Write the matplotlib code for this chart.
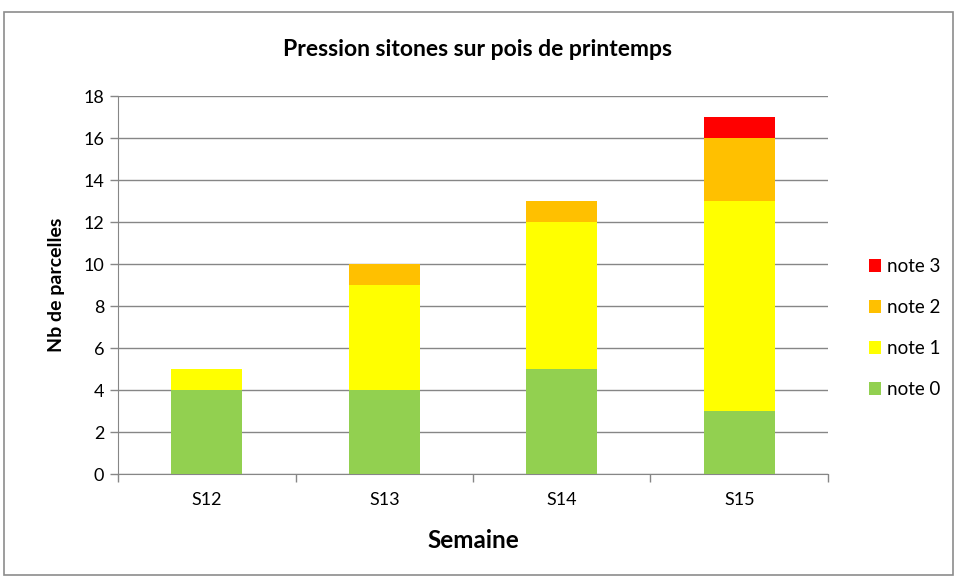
import numpy as np
import matplotlib.pyplot as plt
from matplotlib.patches import Rectangle

plt.rcParams['font.family'] = ['Lato', 'DejaVu Sans']

semaines = ["S12", "S13", "S14", "S15"]
note0 = [4, 4, 5, 3]
note1 = [1, 5, 7, 10]
note2 = [0, 1, 1, 3]
note3 = [0, 0, 0, 1]
series = [("note 0", note0, "#92D050"), ("note 1", note1, "#FFFF00"),
          ("note 2", note2, "#FFC000"), ("note 3", note3, "#FF0000")]

fig = plt.figure(figsize=(9.55, 5.77), dpi=100)
fig.patches.append(Rectangle((0.004, 0.004), 0.994, 0.976, transform=fig.transFigure,
                             fill=False, edgecolor="#8C8C8C", linewidth=1.2))
ax = fig.add_axes([0.1236, 0.1785, 0.7434, 0.6551])

x = np.arange(len(semaines))
bottom = np.zeros(len(semaines))
handles = []
for name, vals, col in series:
    vals = np.array(vals, dtype=float)
    b = ax.bar(x, vals, 0.4, bottom=bottom, color=col, label=name, zorder=3)
    handles.append(b)
    bottom += vals

ax.set_xlim(-0.5, 3.5)
ax.set_ylim(0, 18)
ax.set_yticks(range(0, 19, 2))
ax.yaxis.grid(True, color="#868686", linewidth=1, zorder=0)
ax.set_xticks(np.arange(-0.5, 4, 1))
ax.set_xticklabels([])
ax.set_xticks(x, minor=True)
ax.set_xticklabels(semaines, minor=True)
ax.tick_params(axis="x", which="minor", length=0, pad=13, labelsize=13)
ax.tick_params(axis="x", which="major", length=6, color="#868686", width=1)
ax.tick_params(axis="y", length=6, color="#868686", width=1, labelsize=13, pad=4)
for s in ["top", "right"]:
    ax.spines[s].set_visible(False)
for s in ["left", "bottom"]:
    ax.spines[s].set_color("#868686")

ax.set_xlabel("Semaine", fontsize=17.5, fontweight="bold", labelpad=15)
ax.set_ylabel("Nb de parcelles", fontsize=14, fontweight="bold", labelpad=13)
fig.text(0.5, 0.915, "Pression sitones sur pois de printemps", ha="center", va="center",
         fontsize=16.5, fontweight="bold")

leg = ax.legend(handles[::-1], [h.get_label() for h in handles[::-1]],
                loc="center left", bbox_to_anchor=(1.058, 0.386), frameon=False,
                fontsize=13.5, handlelength=0.64, handleheight=0.64,
                handletextpad=0.3, labelspacing=1.28, borderpad=0, borderaxespad=0)

fig.savefig("out.png", dpi=100)
